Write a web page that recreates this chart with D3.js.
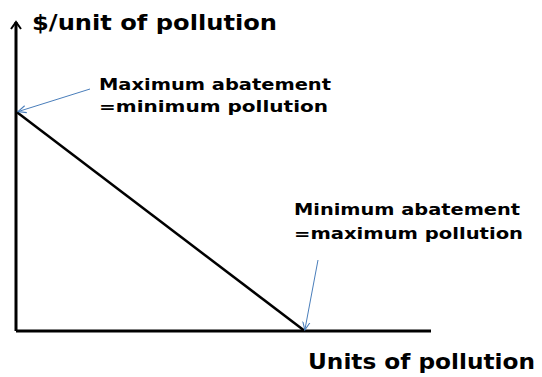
<!DOCTYPE html>
<html>
<head>
<meta charset="utf-8">
<script src="https://cdn.jsdelivr.net/npm/d3@7"></script>
<style>
  html, body { margin: 0; padding: 0; background: #fff; }
  svg { display: block; }
  text { font-family: "DejaVu Sans", Verdana, sans-serif; font-weight: bold; fill: #000; }
</style>
</head>
<body>
<svg id="chart" width="542" height="377"></svg>
<script>
// Marginal abatement cost line: endpoints (quantity of pollution, $ per unit)
const macPoints = [
  { q: 0, cost: 71 },
  { q: 69.6, cost: 0 }
];
const axisTitles = ["$/unit of pollution", "Units of pollution"];
const maxLabel = ["Maximum abatement", "=minimum pollution"];
const minLabel = ["Minimum abatement", "=maximum pollution"];

const svg = d3.select("#chart");
const x = d3.scaleLinear().domain([0, 100]).range([16, 431]);
const y = d3.scaleLinear().domain([0, 100]).range([331, 22]);

const defs = svg.append("defs");
defs.append("marker")
  .attr("id", "blueHead").attr("viewBox", "0 0 10 10")
  .attr("refX", 9).attr("refY", 5)
  .attr("markerWidth", 9).attr("markerHeight", 9)
  .attr("markerUnits", "userSpaceOnUse")
  .attr("orient", "auto")
  .append("path").attr("d", "M0,1 L9,5 L0,9")
  .attr("fill", "none").attr("stroke", "#4a7ebb").attr("stroke-width", 1.2);

// Axes
svg.append("line")
  .attr("x1", x(0)).attr("y1", y(0)).attr("x2", x(100)).attr("y2", y(0))
  .attr("stroke", "#000").attr("stroke-width", 3);
svg.append("line")
  .attr("x1", x(0)).attr("y1", y(0)).attr("x2", x(0)).attr("y2", y(100))
  .attr("stroke", "#000").attr("stroke-width", 3);
// open arrowhead at top of the vertical axis
svg.append("path")
  .attr("d", `M${x(0) - 5},${y(100) + 7} L${x(0)},${y(100)} L${x(0) + 5},${y(100) + 7}`)
  .attr("fill", "none").attr("stroke", "#000").attr("stroke-width", 2);

// MAC line
svg.append("path")
  .datum(macPoints)
  .attr("d", d3.line().x(d => x(d.q)).y(d => y(d.cost)))
  .attr("fill", "none").attr("stroke", "#000").attr("stroke-width", 2.5);

// Text helper: wide bold face, stretched to the given width
const label = (t, tx, ty, size, width) =>
  svg.append("text").attr("x", tx).attr("y", ty)
    .attr("font-size", size)
    .attr("textLength", width).attr("lengthAdjust", "spacingAndGlyphs")
    .text(t);

// Axis titles
label(axisTitles[0], 32, 30, 22, 245);
label(axisTitles[1], 308, 369, 22, 227);

// Annotations
label(maxLabel[0], 99, 90, 16, 232);
label(maxLabel[1], 99, 112, 16, 229);
label(minLabel[0], 294, 215, 16, 226);
label(minLabel[1], 294, 239, 16, 229);

// Pointer arrows to the line endpoints
svg.append("line")
  .attr("x1", 90).attr("y1", 89)
  .attr("x2", x(macPoints[0].q) + 2).attr("y2", y(macPoints[0].cost))
  .attr("stroke", "#4a7ebb").attr("stroke-width", 1)
  .attr("marker-end", "url(#blueHead)");
svg.append("line")
  .attr("x1", 318).attr("y1", 260)
  .attr("x2", x(macPoints[1].q)).attr("y2", y(macPoints[1].cost) - 1)
  .attr("stroke", "#4a7ebb").attr("stroke-width", 1)
  .attr("marker-end", "url(#blueHead)");
</script>
</body>
</html>
